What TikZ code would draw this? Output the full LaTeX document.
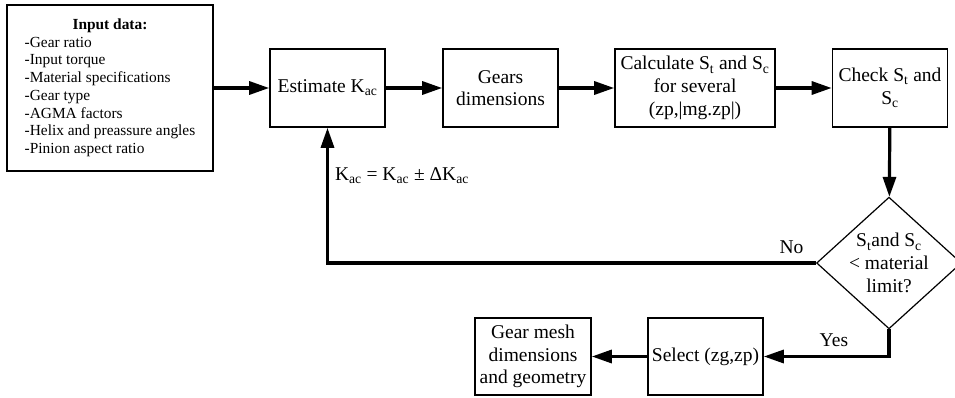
\documentclass[tikz,border=0pt]{standalone}
\usepackage{fontspec}
\setmainfont{Liberation Serif}
\usepackage{tikz}
\usetikzlibrary{arrows.meta,calc,positioning,shapes.geometric}
\tikzset{
  >={Triangle[length=20pt,width=13pt]},
  every node/.style={font=\fontsize{19.5}{22.7}\selectfont,text=black},
  box/.style={rectangle,draw,line width=1.6pt,minimum width=115pt,minimum height=78pt,align=center,inner sep=1pt},
  inbox/.style={rectangle,draw,line width=1.6pt,minimum width=206pt,minimum height=166pt,inner sep=0pt,font=\fontsize{15.4}{17.7}\selectfont},
  dec/.style={diamond,draw,line width=1.2pt,minimum width=132pt,minimum height=120pt,aspect=1.1,inner sep=0pt,align=center},
  flow/.style={->,line width=3.2pt},
}
\newcommand{\Kac}{K\textsubscript{ac}}
\begin{document}
\begin{tikzpicture}[x=1pt,y=-1pt]
  \useasboundingbox (0,0) rectangle (955,398);
  \node[inbox] (in) at (110,88) {\begin{tabular}{@{}l@{}}
      \multicolumn{1}{@{}c@{}}{\textbf{Input data:}}\\
      -Gear ratio\\
      -Input torque\\
      -Material specifications\\
      -Gear type\\
      -AGMA factors\\
      -Helix and preassure angles\\
      -Pinion aspect ratio
    \end{tabular}};
  \node[box] (est) at (327.5,88) {Estimate \Kac};
  \node[box] (gear) at (500.5,88) {Gears\\dimensions};
  \node[box,minimum width=160pt] (calc) at (695,88) {Calculate S\textsubscript{t} and S\textsubscript{c}\\for several\\(zp,|mg.zp|)};
  \node[box] (chk) at (890,88) {Check S\textsubscript{t} and\\S\textsubscript{c}};
  \node[dec] (lim) at (889,263) {S\textsubscript{t}and S\textsubscript{c}\\< material\\limit?};
  \node[box,minimum height=77pt] (sel) at (705.5,356.5) {Select (zg,zp)};
  \node[box,minimum width=116pt,minimum height=77pt] (mesh) at (533,356.5) {Gear mesh\\dimensions\\and geometry};
  % main line
  \draw[flow] (in) -- (est);
  \draw[flow] (est) -- (gear);
  \draw[flow] (gear) -- (calc);
  \draw[flow] (calc) -- (chk);
  \draw[flow] (chk) -- (lim);
  % loop back
  \draw[flow] (lim.west) -| node[pos=0.025,above=4pt] {No} (est.south);
  \node[right=4pt] (upd) at ($(est.south)+(0,48)$) {\Kac{} = \Kac{} ± Δ\Kac};
  \draw[flow] (lim.south) |- node[pos=0.72,above=5pt] {Yes} (sel.east);
  \draw[flow] (sel) -- (mesh);
\end{tikzpicture}
\end{document}
